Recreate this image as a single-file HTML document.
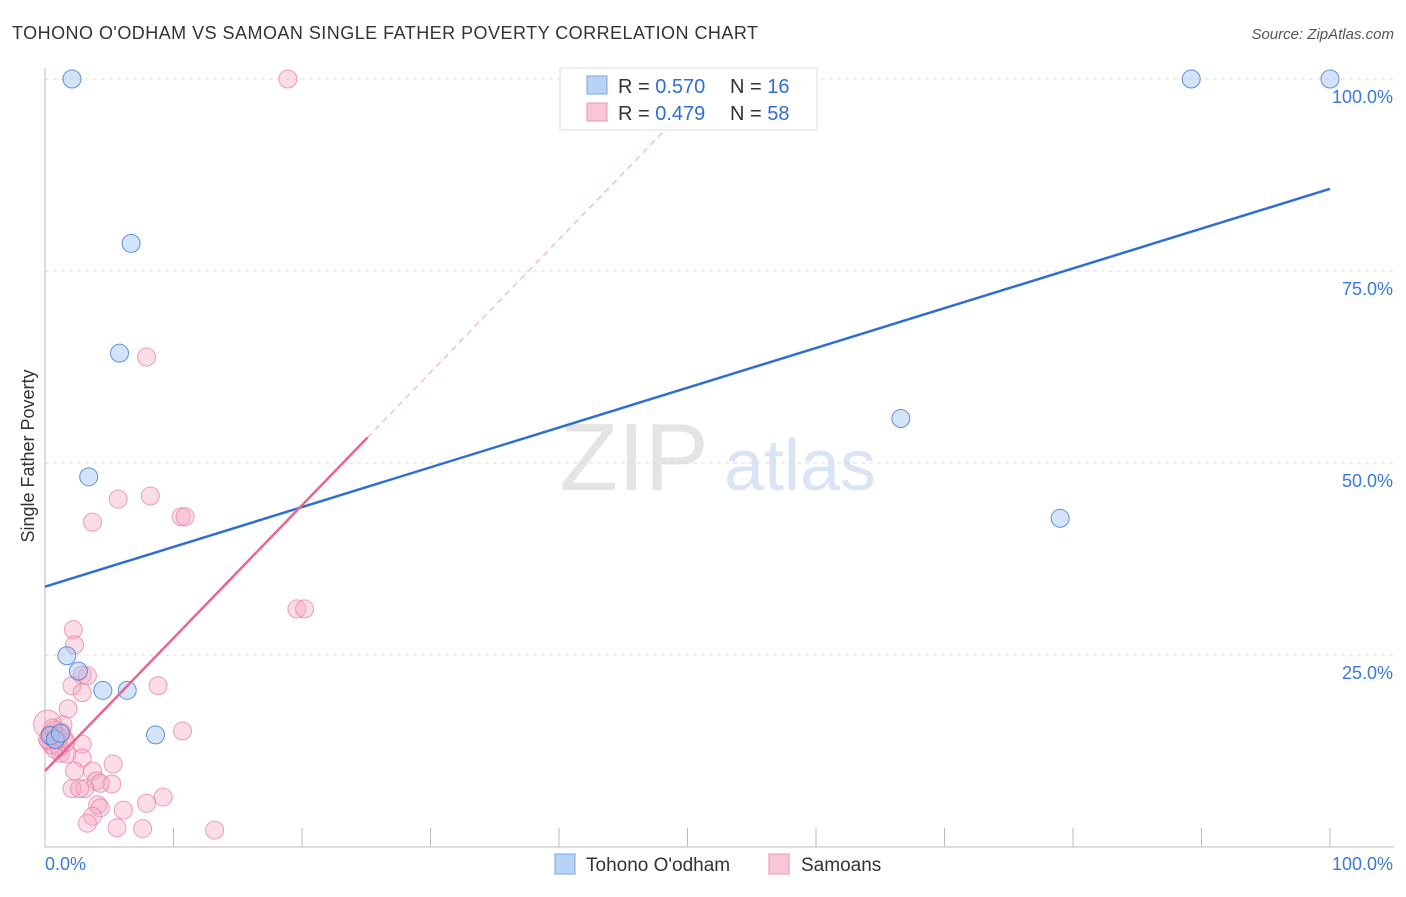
<!DOCTYPE html>
<html><head><meta charset="utf-8"><style>
body{margin:0;background:#fff;font-family:"Liberation Sans",sans-serif;}
svg text{font-family:"Liberation Sans",sans-serif;}
</style></head><body>
<svg id="c" width="1406" height="892">
<text x="12" y="39" font-size="18" fill="#333" textLength="746">TOHONO O'ODHAM VS SAMOAN SINGLE FATHER POVERTY CORRELATION CHART</text>
<text x="1394" y="39" font-size="15" fill="#555" font-style="italic" text-anchor="end">Source: ZipAtlas.com</text>
<text x="634" y="490" font-size="96" fill="#e4e4e4" font-family="Liberation Serif" text-anchor="middle">ZIP</text>
<text x="800" y="490" font-size="72" fill="#d9e4f5" text-anchor="middle">atlas</text>
<text transform="translate(34,456) rotate(-90)" font-size="18" fill="#333" text-anchor="middle">Single Father Poverty</text>
<g id="grid"></g><g id="marks"></g>
<g>
<rect x="560" y="68" width="257" height="62" fill="#fff" stroke="#ddd"/>
<rect x="587" y="76" width="20" height="18" fill="#b8d3f5" stroke="#7aa6e0"/>
<rect x="587" y="103" width="20" height="18" fill="#f9c6d5" stroke="#ec94b0"/>
<text x="618" y="93" font-size="20" fill="#333">R = <tspan fill="#2f6fd1">0.570</tspan></text>
<text x="730" y="93" font-size="20" fill="#333">N = <tspan fill="#2f6fd1">16</tspan></text>
<text x="618" y="120" font-size="20" fill="#333">R = <tspan fill="#2f6fd1">0.479</tspan></text>
<text x="730" y="120" font-size="20" fill="#333">N = <tspan fill="#2f6fd1">58</tspan></text>
</g>
<g>
<rect x="555" y="854" width="20" height="20" fill="#b8d3f5" stroke="#7aa6e0"/>
<text x="586" y="871" font-size="19" fill="#333">Tohono O'odham</text>
<rect x="769" y="854" width="20" height="20" fill="#f9c6d5" stroke="#ec94b0"/>
<text x="801" y="871" font-size="19" fill="#333">Samoans</text>
</g>
</svg>
<script>
const xTicks=[0,10,20,30,40,50,60,70,80,90,100];
const yTicks=[25,50,75,100];
const blueX=[2.1,89.2,100,6.7,5.8,3.4,66.6,79.0,1.7,2.6,4.5,6.4,8.6,0.4,0.8,1.2];
const blueY=[100,100,100,78.6,64.3,48.2,55.8,42.8,24.9,22.9,20.4,20.4,14.6,14.5,14.0,14.8];
const pinkX=[18.9,7.9,5.7,8.2,3.7,10.6,10.9,19.6,20.2,2.2,2.3,2.9,3.3,2.1,2.9,8.8,1.8,10.7,0.6,1.4,2.9,1.2,1.7,2.9,5.3,2.3,3.7,4.0,5.2,4.3,3.1,2.1,2.7,9.2,7.9,4.1,4.3,6.1,3.7,3.3,5.6,7.6,13.2,0.2,0.5,0.9,1.0,1.3,0.3,0.7,1.1,1.5,0.4,0.8,0.2,1.6,0.6,1.0];
const pinkY=[100,63.8,45.3,45.7,42.3,43.0,43.0,31.0,31.0,28.3,26.3,22.4,22.3,21.0,20.1,21.0,18.0,15.1,14.5,15.9,13.4,12.2,12.1,11.6,10.8,9.9,9.9,8.6,8.2,8.3,7.6,7.6,7.6,6.5,5.7,5.5,5.1,4.8,4.0,3.1,2.5,2.4,2.2,16.0,13.3,14.3,13.9,14.9,13.8,15.2,13.0,14.1,14.7,12.7,14.0,13.6,15.5,14.4];
const blueLine=[33.9,85.7], pinkLine=[9.9,1.73];
const X=v=>45+v*12.85, Y=v=>847-v*7.68;
const NS='http://www.w3.org/2000/svg';
const g=document.getElementById('grid'), m=document.getElementById('marks');
function el(t,a,p){const e=document.createElementNS(NS,t);for(const k in a)e.setAttribute(k,a[k]);p.appendChild(e);return e;}
yTicks.forEach(t=>{
 const l=el('line',{x1:45,x2:1394,y1:Y(t),y2:Y(t),stroke:'#ddd','stroke-dasharray':'4,4'},g);
 
 
 const tx=el('text',{x:1393,y:Y(t)+24,'font-size':18,fill:'#3b78d8','text-anchor':'end'},g);tx.textContent=t.toFixed(1)+'%';
 
 
});
el('line',{x1:45,x2:45,y1:68,y2:847,stroke:'#bbb'},g);
el('line',{x1:45,x2:1394,y1:847,y2:847,stroke:'#bbb'},g);
xTicks.forEach(t=>{const l=el('line',{x1:X(t),x2:X(t),y1:828,y2:847,stroke:'#bbb'},g);
 
 });
let a=el('text',{x:45,y:870,'font-size':18,fill:'#3b78d8'},g);a.textContent='0.0%';


a=el('text',{x:1393,y:870,'font-size':18,fill:'#3b78d8','text-anchor':'end'},g);a.textContent='100.0%';


pinkX.forEach((x,i)=>{const c=el('circle',{cx:X(x),cy:Y(pinkY[i]),r:i==43?14:9,fill:'rgba(246,170,195,0.4)',stroke:'rgba(232,120,160,0.7)','stroke-width':1},m);
 
 });
blueX.forEach((x,i)=>{const c=el('circle',{cx:X(x),cy:Y(blueY[i]),r:9,fill:'rgba(160,195,240,0.45)',stroke:'rgba(60,120,210,0.8)','stroke-width':1},m);
 
 });
let L=el('line',{x1:X(0),y1:Y(blueLine[0]),x2:X(100),y2:Y(blueLine[1]),stroke:'#2f6fd1','stroke-width':2.5},m);


L=el('line',{x1:X(25.1),y1:Y(pinkLine[0]+pinkLine[1]*25.1),x2:X(50.2),y2:Y(pinkLine[0]+pinkLine[1]*50.2),stroke:'#f0a0b8','stroke-width':1,'stroke-dasharray':'6,5'},m);


L=el('line',{x1:X(0),y1:Y(pinkLine[0]),x2:X(25.1),y2:Y(pinkLine[0]+pinkLine[1]*25.1),stroke:'#e8668f','stroke-width':2.5},m);


</script>
</body></html>
